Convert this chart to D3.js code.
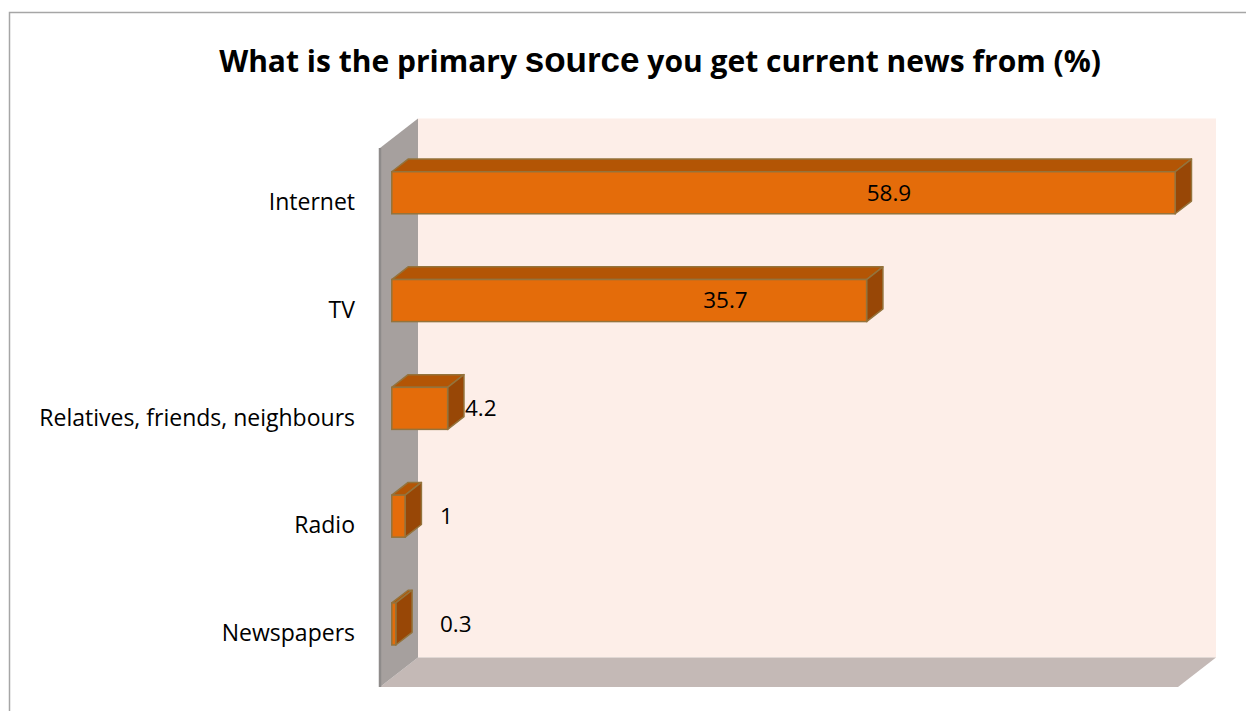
<!DOCTYPE html>
<html>
<head>
<meta charset="utf-8">
<script src="https://cdn.jsdelivr.net/npm/d3@7"></script>
<style>
  html, body { margin: 0; padding: 0; background: #ffffff; }
  svg { display: block; }
  text { font-family: "Open Sans", "Noto Sans", sans-serif; fill: #000; }
  .src { font-family: "Liberation Sans", Arial, sans-serif; font-size: 35px; }
</style>
</head>
<body>
<svg id="chart" width="1246" height="711"></svg>
<script>
// Survey: primary source of current news (%)
const categories = ["Internet", "TV", "Relatives, friends, neighbours", "Radio", "Newspapers"];
const values = [58.9, 35.7, 4.2, 1, 0.3];
const axisMax = 60;

const svg = d3.select("#chart");

// outer chart frame (top and left edges visible)
svg.append("path")
  .attr("d", "M9.5,711 L9.5,12.5 L1246,12.5")
  .attr("fill", "none").attr("stroke", "#a6a6a6").attr("stroke-width", 1.5);

// title, with the enlarged word rendered in a different face
const title = svg.append("text")
  .attr("x", 660).attr("y", 72)
  .attr("text-anchor", "middle")
  .style("font-weight", "bold").style("font-size", "30px");
title.append("tspan").text("What is the primary ");
title.append("tspan").attr("class", "src").text("source");
title.append("tspan").text(" you get current news from (%)");

// 3D frame geometry: front plane + depth offset
const DX = 38, DY = -29.5;
const x = d3.scaleLinear().domain([0, axisMax]).range([380, 1178]);
const y = d3.scaleBand().domain(categories).range([148, 687]).paddingInner(0.61).paddingOuter(0.305);

const x0 = x(0), x1 = x(axisMax);
const yTop = 148, yBot = 687;

// back wall
svg.append("rect")
  .attr("x", x0 + DX).attr("y", yTop + DY)
  .attr("width", x1 - x0).attr("height", yBot - yTop)
  .attr("fill", "#fdeee8");

// floor
svg.append("path")
  .attr("d", `M${x0},${yBot} L${x1},${yBot} L${x1 + DX},${yBot + DY} L${x0 + DX},${yBot + DY} Z`)
  .attr("fill", "#c4b9b6");

// side wall (category axis)
svg.append("path")
  .attr("d", `M${x0},${yTop} L${x0 + DX},${yTop + DY} L${x0 + DX},${yBot + DY} L${x0},${yBot} Z`)
  .attr("fill", "#a6a09e");
svg.append("line")
  .attr("x1", x0).attr("y1", yTop).attr("x2", x0).attr("y2", yBot)
  .attr("stroke", "#8e8b8a").attr("stroke-width", 2.5);

// bars sit between two depth fractions of the frame
const f1 = 0.31, f2 = 0.74;
const fx = DX * f1, fy = DY * f1;
const bx = DX * (f2 - f1), by = DY * (f2 - f1);
const edge = "#94733c";

const bars = svg.append("g").selectAll("g").data(categories).join("g");

bars.each(function(c, i) {
  const g = d3.select(this);
  const v = values[i];
  const left = x(0) + fx, right = x(v) + fx;
  const top = y(c) + fy, bottom = y(c) + y.bandwidth() + fy;
  // top face
  g.append("path")
    .attr("d", `M${left},${top} L${left + bx},${top + by} L${right + bx},${top + by} L${right},${top} Z`)
    .attr("fill", "#b35505").attr("stroke", edge).attr("stroke-width", 1.5).attr("stroke-linejoin", "round");
  // side face
  g.append("path")
    .attr("d", `M${right},${top} L${right + bx},${top + by} L${right + bx},${bottom + by} L${right},${bottom} Z`)
    .attr("fill", "#984706").attr("stroke", edge).attr("stroke-width", 1.5).attr("stroke-linejoin", "round");
  // front face
  g.append("rect")
    .attr("x", left).attr("y", top).attr("width", right - left).attr("height", bottom - top)
    .attr("fill", "#e46c0a").attr("stroke", edge).attr("stroke-width", 1.5);
});

// value labels: inside long bars (shifted toward the end), outside short ones
bars.append("text")
  .attr("y", c => y(c) + y.bandwidth() / 2 + fy)
  .attr("dy", "0.35em")
  .style("font-size", "22.5px")
  .each(function(c, i) {
    const v = values[i];
    const t = d3.select(this);
    const len = x(v) - x(0);
    if (v > 10) {
      t.attr("x", x(0) + fx + 82 + 0.53 * len).attr("text-anchor", "middle");
    } else {
      t.attr("x", Math.max(x(v) + fx + bx + 1, x(0) + 60)).attr("text-anchor", "start");
    }
  })
  .text((c, i) => values[i]);

// category labels
svg.append("g").selectAll("text").data(categories).join("text")
  .attr("x", 355)
  .attr("y", c => y(c) + y.bandwidth() / 2)
  .attr("dy", "0.35em")
  .attr("text-anchor", "end")
  .style("font-size", "23px")
  .text(c => c);
</script>
</body>
</html>
